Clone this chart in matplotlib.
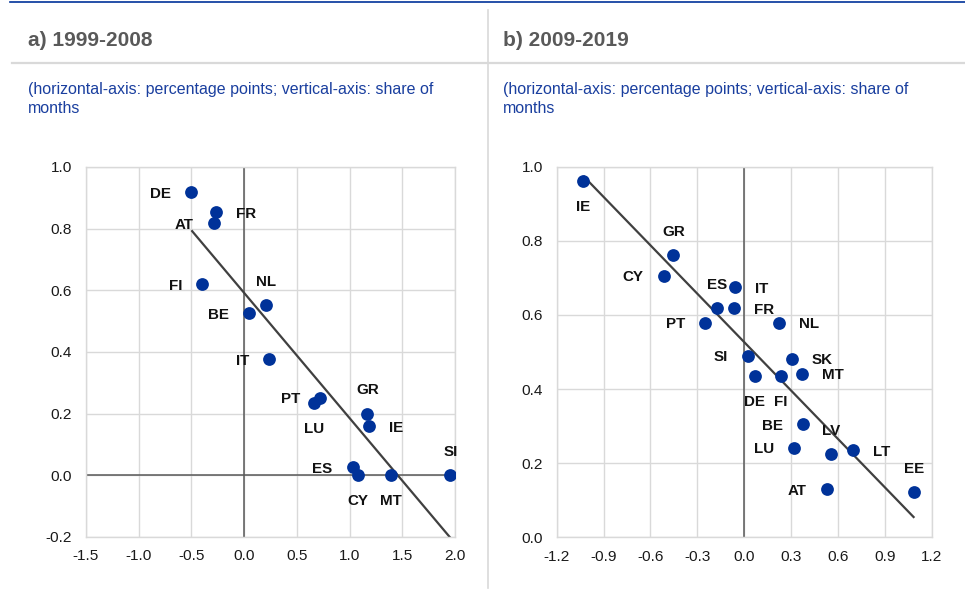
import numpy as np
import matplotlib
matplotlib.use("Agg")
import matplotlib.pyplot as plt
from matplotlib.lines import Line2D

plt.rcParams['font.family'] = ['Liberation Sans', 'DejaVu Sans']

# ---------------- data ----------------
titles = ["a) 1999-2008", "b) 2009-2019"]
subtitle_1 = "(horizontal-axis: percentage points; vertical-axis: share of"
subtitle_2 = "months"

countries_a = ["DE", "FR", "AT", "FI", "NL", "BE", "IT", "PT", "LU", "GR", "IE", "ES", "CY", "MT", "SI"]
x_a = [-0.50, -0.27, -0.29, -0.40, 0.21, 0.05, 0.237, 0.72, 0.667, 1.17, 1.18, 1.03, 1.08, 1.39, 1.955]
y_a = [0.918, 0.853, 0.818, 0.619, 0.552, 0.526, 0.376, 0.252, 0.235, 0.200, 0.159, 0.026, 0.0, 0.0, 0.0]

countries_b = ["IE", "GR", "CY", "IT", "ES", "FR", "PT", "NL", "SI", "SK", "MT", "DE", "FI", "BE", "LU", "LV", "LT", "AT", "EE"]
x_b = [-1.03, -0.454, -0.515, -0.061, -0.174, -0.065, -0.249, 0.225, 0.022, 0.304, 0.372, 0.069, 0.233, 0.378, 0.319, 0.558, 0.698, 0.528, 1.089]
y_b = [0.961, 0.761, 0.705, 0.675, 0.618, 0.618, 0.578, 0.578, 0.489, 0.481, 0.441, 0.434, 0.434, 0.305, 0.241, 0.224, 0.235, 0.130, 0.121]

xticks_a = [-1.5, -1.0, -0.5, 0.0, 0.5, 1.0, 1.5, 2.0]
yticks_a = [-0.2, 0.0, 0.2, 0.4, 0.6, 0.8, 1.0]
xticks_b = [-1.2, -0.9, -0.6, -0.3, 0.0, 0.3, 0.6, 0.9, 1.2]
yticks_b = [0.0, 0.2, 0.4, 0.6, 0.8, 1.0]

# label placement (style): L=left, R=right, A=above, B=below
place_a = ["L", "R", "L", "L", "A", "L", "L", "L", "B", "A", "R", "L", "B", "B", "A"]
place_b = ["B", "A", "L", "R", "A", "R", "L", "R", "L", "R", "R", "B", "B", "L", "L", "A", "R", "L", "A"]

# ---------------- styling ----------------
W, H = 965, 596
BLUE = "#003299"
TXTBLUE = "#1a3f9f"
GRID = "#d9d9d9"
TREND = "#404040"
ZERO = "#595959"

fig = plt.figure(figsize=(W / 100, H / 100), dpi=100)


def fx(px):
    return px / W


def fy(py):
    return 1 - py / H


# decoration lines
fig.add_artist(Line2D([fx(10), 1], [fy(1.5), fy(1.5)], color=BLUE, lw=1.2))
fig.add_artist(Line2D([fx(12), 1], [fy(63), fy(63)], color=GRID, lw=1.6))
fig.add_artist(Line2D([fx(488), fx(488)], [fy(10), fy(588)], color=GRID, lw=1.2))

for i, lx in enumerate([28, 503]):
    fig.text(fx(lx), fy(46), titles[i], fontsize=15, fontweight="bold", color="#595959",
             ha="left", va="baseline")
    fig.text(fx(lx), fy(94), subtitle_1, fontsize=11.5, color=TXTBLUE, ha="left", va="baseline")
    fig.text(fx(lx), fy(113), subtitle_2, fontsize=11.5, color=TXTBLUE, ha="left", va="baseline")

offsets = {"L": ((-14.4, -1.0), "right"), "R": ((14.4, -1.0), "left"),
           "A": ((0, 17.0), "center"), "B": ((0, -18.7), "center")}


def panel(rect, xs, ys, names, places, xt, yt, draw_h0):
    ax = fig.add_axes(rect)
    ax.set_xlim(xt[0], xt[-1])
    ax.set_ylim(yt[0], yt[-1])
    ax.set_xticks(xt)
    ax.set_yticks(yt)
    ax.set_xticklabels([f"{v:.1f}" for v in xt])
    ax.set_yticklabels([f"{v:.1f}" for v in yt])
    ax.tick_params(length=0, labelsize=11.1, colors="#1a1a1a", pad=10)
    ax.tick_params(axis="x", pad=9)
    ax.grid(True, color=GRID, lw=1.0, zorder=0)
    for s in ax.spines.values():
        s.set_color(GRID)
        s.set_linewidth(1.0)
    ax.set_axisbelow(True)
    ax.axvline(0, color=ZERO, lw=1.1, zorder=1)
    if draw_h0:
        ax.axhline(0, color=ZERO, lw=1.1, zorder=1)
    xs_arr = np.array(xs)
    ys_arr = np.array(ys)
    k, b = np.polyfit(xs_arr, ys_arr, 1)
    xl = np.array([xs_arr.min(), xs_arr.max()])
    ax.plot(xl, k * xl + b, color=TREND, lw=1.6, zorder=2, solid_capstyle="butt")
    ax.plot(xs_arr, ys_arr, "o", color=BLUE, ms=9.2, mec="none", zorder=3)
    for x, y, n, p in zip(xs, ys, names, places):
        off, ha = offsets[p]
        ax.annotate(n, (x, y), xytext=off, textcoords="offset points", ha=ha, va="center",
                    fontsize=10.9, fontweight="bold", color="#111111", zorder=4)
    return ax


panel([fx(86), fy(537), fx(455) - fx(86), fy(167) - fy(537)], x_a, y_a, countries_a, place_a,
      xticks_a, yticks_a, True)
panel([fx(556.7), fy(537.3), fx(931.7) - fx(556.7), fy(166.7) - fy(537.3)], x_b, y_b, countries_b,
      place_b, xticks_b, yticks_b, False)

fig.savefig("out.png", dpi=100)
